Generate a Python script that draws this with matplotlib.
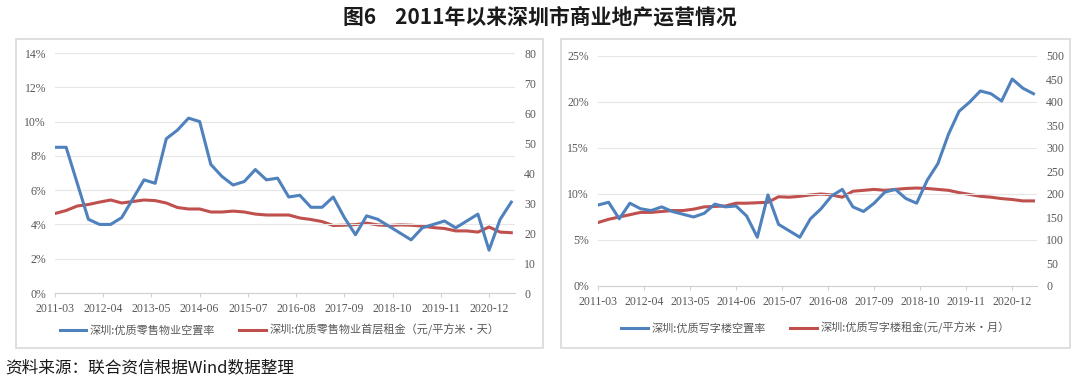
import matplotlib
matplotlib.use('Agg')
from matplotlib import pyplot as plt
from matplotlib.patches import Rectangle
import numpy as np

plt.rcParams['font.family'] = ['Noto Sans CJK SC', 'DejaVu Sans']

# Data (quarterly, 2011-03 .. 2021-06)
# ===================================================================================================
tick_labels = ['2011-03', '2012-04', '2013-05', '2014-06', '2015-07',
               '2016-08', '2017-09', '2018-10', '2019-11', '2020-12']

retail_vacancy = [8.5, 8.5, 6.4, 4.3, 4.0, 4.0, 4.4, 5.5, 6.6, 6.4,
                  9.0, 9.5, 10.2, 10.0, 7.5, 6.8, 6.3, 6.5, 7.2, 6.6,
                  6.7, 5.6, 5.7, 5.0, 5.0, 5.6, 4.4, 3.4, 4.5, 4.3,
                  3.9, 3.5, 3.1, 3.8, 4.0, 4.2, 3.8, 4.2, 4.6, 2.5,
                  4.3, 5.3]
retail_rent = [26.5, 27.5, 29.0, 29.5, 30.3, 31.0, 30.0, 30.5, 31.0, 30.8,
               30.0, 28.5, 28.0, 28.0, 27.0, 27.0, 27.3, 27.0, 26.3, 26.0,
               26.0, 26.0, 25.0, 24.5, 23.8, 22.5, 22.6, 22.8, 23.3, 22.7,
               22.5, 22.7, 22.6, 22.3, 21.8, 21.5, 20.7, 20.7, 20.3, 22.0,
               20.3, 20.1]

office_vacancy = [8.8, 9.1, 7.3, 9.0, 8.4, 8.2, 8.6, 8.1, 7.8, 7.5,
                  7.9, 8.9, 8.6, 8.7, 7.6, 5.3, 9.9, 6.7, 6.0, 5.3,
                  7.3, 8.4, 9.8, 10.5, 8.6, 8.1, 9.0, 10.2, 10.5, 9.5,
                  9.0, 11.5, 13.3, 16.5, 19.0, 20.0, 21.2, 20.9, 20.1, 22.5,
                  21.5, 20.9]
office_rent = [138, 145, 150, 155, 160, 160, 162, 164, 164, 167,
               172, 173, 174, 180, 180, 181, 182, 194, 193, 195,
               198, 200, 198, 193, 206, 208, 210, 208, 210, 212,
               213, 212, 210, 208, 203, 199, 195, 193, 190, 188,
               185, 185]

months = np.arange(len(retail_vacancy)) * 3
tick_pos = np.arange(len(tick_labels)) * 13

BLUE = '#4F81BD'
RED = '#C0504D'
GRAY = '#595959'
W, H = 1080, 385

fig = plt.figure(figsize=(W / 100, H / 100), dpi=100)


def px(x0, y0, x1, y1):
    # pixel box (top-left origin) -> figure fraction rect
    return [x0 / W, 1 - y1 / H, (x1 - x0) / W, (y1 - y0) / H]


def panel(box, plot_box, vac, rent, ylim_l, yticks_l, ylim_r, yticks_r, labels, legend_y):
    bx = px(*box)
    fig.patches.append(Rectangle((bx[0], bx[1]), bx[2], bx[3], transform=fig.transFigure,
                                 fill=False, edgecolor='#d9d9d9', lw=1.2))
    ax = fig.add_axes(px(*plot_box))
    ax2 = ax.twinx()
    l1, = ax.plot(months, vac, color=BLUE, lw=2.2, label=labels[0])
    l2, = ax2.plot(months, rent, color=RED, lw=2.2, label=labels[1])
    ax.set_xlim(0, 124)
    ax.set_ylim(*ylim_l)
    ax.set_yticks(yticks_l)
    ax.set_yticklabels([f'{int(v)}%' for v in yticks_l])
    ax2.set_ylim(*ylim_r)
    ax2.set_yticks(yticks_r)
    ax.grid(axis='y', color='#e6e6e6', lw=0.8)
    ax.set_axisbelow(True)
    ax.set_xticks(tick_pos)
    ax.set_xticklabels(tick_labels)
    for a in (ax, ax2):
        for s in ['top', 'left', 'right', 'bottom']:
            a.spines[s].set_visible(False)
        a.tick_params(axis='y', length=0, labelsize=8.5, labelcolor=GRAY, pad=6.5)
        for t in a.get_yticklabels():
            t.set_fontfamily('Liberation Serif')
    ax.spines['bottom'].set_visible(True)
    ax.spines['bottom'].set_color('#d0d0d0')
    ax.tick_params(axis='x', length=3, color='#d0d0d0', labelsize=8.5, labelcolor=GRAY, pad=4)
    for t in ax.get_xticklabels():
        t.set_fontfamily('Liberation Serif')
    ax2.set_zorder(ax.get_zorder() + 1)
    ax.set_zorder(ax2.get_zorder() + 1)
    ax.patch.set_visible(False)
    cx = (box[0] + box[2]) / 2 / W
    fig.legend(handles=[l1, l2], loc='center', bbox_to_anchor=(cx, 1 - legend_y / H),
               ncol=2, frameon=False, fontsize=8, labelcolor=GRAY,
               handlelength=2.4, columnspacing=2.2, handletextpad=0.3)


panel((16, 39, 543, 348), (55, 53, 515, 293), retail_vacancy, retail_rent,
      (0, 14), [0, 2, 4, 6, 8, 10, 12, 14], (0, 80), range(0, 81, 10),
      ['深圳:优质零售物业空置率', '深圳:优质零售物业首层租金（元/平方米·天）'], 330)

panel((561, 39, 1070, 348), (598, 56, 1037, 286), office_vacancy, office_rent,
      (0, 25), [0, 5, 10, 15, 20, 25], (0, 500), range(0, 501, 50),
      ['深圳:优质写字楼空置率', '深圳:优质写字楼租金(元/平方米·月）'], 328)

fig.text(0.5, 1 - 17 / H, '图6    2011年以来深圳市商业地产运营情况', ha='center', va='center',
         fontsize=15, fontweight='bold', color='#1a1a1a')
fig.text(5 / W, 1 - 368 / H, '资料来源：联合资信根据Wind数据整理', ha='left', va='center',
         fontsize=12, color='#1a1a1a')

fig.savefig('out.png', dpi=100)
